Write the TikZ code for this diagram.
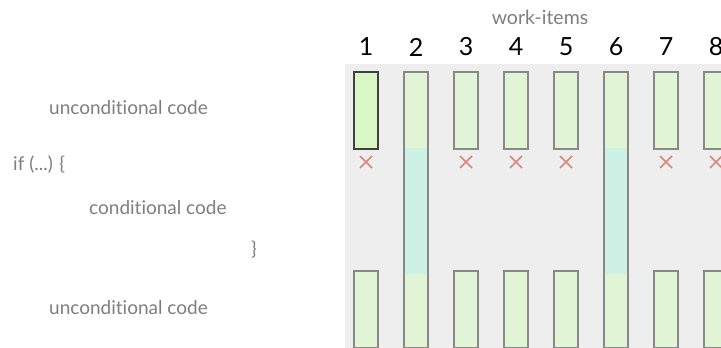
\documentclass[tikz,border=0pt]{standalone}
\usepackage{fontspec}
\setmainfont{Lato}[Ligatures=NoCommon]
\definecolor{bggray}{HTML}{EEEEEE}
\definecolor{boxgreen}{HTML}{E1F4D5}
\definecolor{boxgreenA}{HTML}{D9F6C5}
\definecolor{boxcyan}{HTML}{CDF1E5}
\definecolor{edgegray}{HTML}{888888}
\definecolor{txtgray}{HTML}{7E7E7E}
\definecolor{xred}{HTML}{D8887E}
\tikzset{
  codetext/.style={anchor=west, text=txtgray, font=\fontsize{19}{22}\selectfont, inner sep=0pt},
  numlabel/.style={text=black, font=\fontsize{25}{28}\selectfont, inner sep=0pt},
  itembox/.style={draw=edgegray, line width=2pt, fill=boxgreen, minimum width=24pt, inner sep=0pt},
  firstbox/.style={draw=black!75, line width=2pt, fill=boxgreenA, minimum width=24pt, inner sep=0pt},
  xmark/.style={draw=xred, line width=1.5pt}
}
\begin{document}
\begin{tikzpicture}[x=1pt,y=-1pt]
\useasboundingbox (0,0) rectangle (721,348);
\clip (0,0) rectangle (721,348);
\fill[bggray] (345,64) rectangle (721,348);
\node[text=txtgray, font=\fontsize{19.5}{22}\selectfont, inner sep=0pt] (wi) at (540,17) {work-items};
% left code
\node[codetext] (u1) at (49,108) {unconditional code};
\node[codetext] (if) at (13,165) {if (...) \{};
\node[codetext] (cc) at (89,208) {conditional code};
\node[codetext] (cb) at (251,250) {\}};
\node[codetext] (u2) at (49,308) {unconditional code};
% columns
\foreach \i in {1,...,8}{
  \pgfmathsetmacro{\cx}{366+50*(\i-1)}
  \node[numlabel] (n\i) at (\cx,47) {\i};
}
\foreach \i in {3,4,5,7,8}{
  \pgfmathsetmacro{\cx}{366+50*(\i-1)}
  \node[itembox, minimum height=77pt] (t\i) at (\cx,110) {};
  \node[itembox, minimum height=77pt] (b\i) at (\cx,309) {};
  \draw[xmark] (\cx-6,156) -- (\cx+6,168) (\cx-6,168) -- (\cx+6,156);
}
\node[firstbox, minimum height=77pt] (t1) at (366,110) {};
\node[itembox, minimum height=77pt] (b1) at (366,309) {};
\draw[xmark] (360,156) -- (372,168) (360,168) -- (372,156);
% tall bars
\foreach \i in {2,6}{
  \pgfmathsetmacro{\cx}{366+50*(\i-1)}
  \node[itembox, minimum height=276pt,
        path picture={\fill[boxcyan] ([yshift=-76pt]path picture bounding box.north west) rectangle ([yshift=-202pt]path picture bounding box.north east);}]
        (tall\i) at (\cx,209.5) {};
}
\end{tikzpicture}
\end{document}
